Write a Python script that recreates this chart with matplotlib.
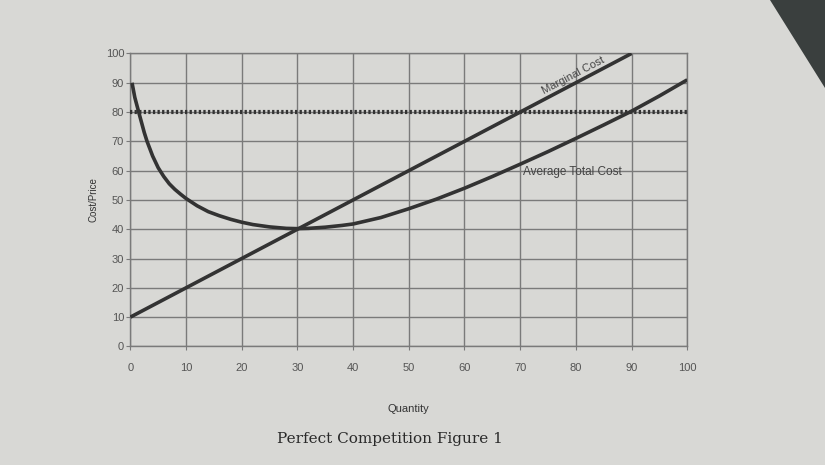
import numpy as np
import matplotlib.pyplot as plt
from matplotlib.patches import Polygon

plt.rcParams["font.family"] = ["Liberation Sans", "DejaVu Sans"]

# Chart values
quantity_mc = [0, 90]
marginal_cost = [10, 100]

quantity_atc = [0.3, 0.8, 1.5, 2, 2.5, 3, 3.5, 4, 5, 6, 7, 8, 9, 10, 12, 14, 16, 18, 20, 22, 25, 28, 30,
                32, 35, 38, 40, 45, 50, 55, 60, 65, 70, 75, 80, 85, 90, 95, 100]
average_total_cost = [90, 85, 80, 76.5, 73, 70, 67.5, 65, 61, 58, 55.5, 53.6, 52, 50.5, 48, 46, 44.6, 43.4, 42.4,
                      41.6, 40.8, 40.3, 40.2, 40.3, 40.7, 41.3, 41.8, 44, 47, 50.3, 54, 58, 62.2, 66.5, 71,
                      75.6, 80.3, 85.5, 91]

quantity_price = [0, 100]
price = [80, 80]

ticks = list(range(0, 101, 10))

paper = "#d8d8d5"
ink = "#333333"
grid_col = "#7a7a7a"

fig = plt.figure(figsize=(8.25, 4.65), dpi=100, facecolor=paper)
ax = fig.add_axes([0.158, 0.255, 0.675, 0.63], facecolor=paper)

# dark corner from the photo
fig.patches.append(Polygon([[0.933, 1.0], [1.0, 1.0], [1.0, 0.81]], closed=True,
                           transform=fig.transFigure, facecolor="#3a3f3e", edgecolor="none", zorder=0))

ax.plot(quantity_price, price, linestyle=(0, (0.55, 0.55)), color=ink, linewidth=3.0, zorder=3)
ax.plot(quantity_mc, marginal_cost, color=ink, linewidth=2.6, solid_capstyle="butt", zorder=4)
ax.plot(quantity_atc, average_total_cost, color=ink, linewidth=2.6, solid_capstyle="butt", zorder=4)

ax.set_xlim(0, 100)
ax.set_ylim(0, 100)
ax.set_xticks(ticks)
ax.set_yticks(ticks)
ax.grid(color=grid_col, linewidth=1.0)
ax.set_axisbelow(True)
for side in ax.spines.values():
    side.set_color(grid_col)
    side.set_linewidth(1.0)
ax.tick_params(axis="both", labelsize=8, labelcolor="#555555", color=grid_col, length=3)
ax.tick_params(axis="x", pad=9)
ax.tick_params(axis="y", pad=1.5)

# labels on the curves
p1 = ax.transData.transform((0, 10))
p2 = ax.transData.transform((90, 100))
angle = np.degrees(np.arctan2(p2[1] - p1[1], p2[0] - p1[0]))
ax.text(80, 91, "Marginal Cost", rotation=angle, rotation_mode="anchor", ha="center", va="bottom",
        fontsize=8, color="#444444", zorder=5)
ax.text(70.5, 59.5, "Average Total Cost", ha="left", va="center", fontsize=8.5, color="#444444", zorder=5)

ax.set_xlabel("Quantity", fontsize=8, color="#333333", labelpad=22)
ax.set_ylabel("Cost/Price", fontsize=7, color="#333333", labelpad=5)

fig.text(0.473, 0.055, "Perfect Competition Figure 1", ha="center", va="center",
         fontsize=11, family="DejaVu Serif", color="#2a2a2a")

plt.savefig("out.png", dpi=100, facecolor=paper)
